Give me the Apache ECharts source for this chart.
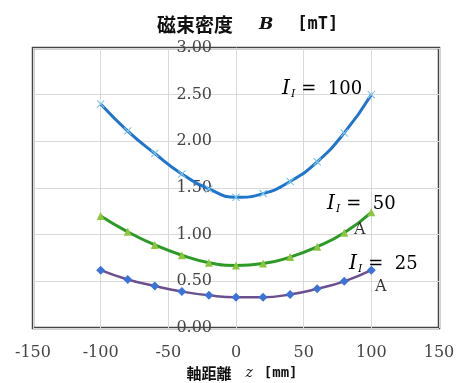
<!DOCTYPE html>
<html>
<head>
<meta charset="utf-8">
<script src="https://cdn.jsdelivr.net/npm/echarts@6/dist/echarts.min.js"></script>
<style>
html,body{margin:0;padding:0;background:#fff;}
#chart{width:456px;height:383px;}
</style>
</head>
<body>
<div id="chart"></div>
<script>
// ---- data ----
var zPositions = [-100, -80, -60, -40, -20, 0, 20, 40, 60, 80, 100];
var b100 = [2.40, 2.11, 1.87, 1.65, 1.49, 1.40, 1.44, 1.57, 1.78, 2.09, 2.50];
var b50  = [1.20, 1.03, 0.89, 0.78, 0.70, 0.67, 0.69, 0.76, 0.87, 1.02, 1.24];
var b25  = [0.62, 0.52, 0.45, 0.39, 0.35, 0.33, 0.33, 0.36, 0.42, 0.50, 0.62];
var seriesNames = ['I=100', 'I=50', 'I=25'];
var annotationValues = ['100', '50', '25'];
var xTicks = [-150, -100, -50, 0, 50, 100, 150];
var yTicks = [0, 0.5, 1.0, 1.5, 2.0, 2.5, 3.0];

function pairs(ys) { return zPositions.map(function (x, i) { return [x, ys[i]]; }); }

var serif = 'DejaVu Serif';
var cjk = 'Noto Sans CJK JP';
var crossPath = 'path://M0,1 L1,0 L5,4 L9,0 L10,1 L6,5 L10,9 L9,10 L5,6 L1,10 L0,9 L4,5 Z';

var annRich = {
  i: { fontFamily: serif, fontStyle: 'italic', fontSize: 20, color: '#333', lineHeight: 22 },
  s: { fontFamily: serif, fontStyle: 'italic', fontSize: 11, color: '#333', verticalAlign: 'bottom', lineHeight: 22, padding: [0, 6, 0, 1] },
  n: { fontFamily: serif, fontSize: 18, color: '#333', lineHeight: 22 }
};
function annText(v) { return '{i|I}{s|I}{n|=  ' + v + '}'; }

var gridLeft = 33, gridRight = 17;
var chartWidth = 456;

var chart = echarts.init(document.getElementById('chart'));
var option = {
  backgroundColor: '#fff',
  animation: false,
  title: {
    text: '{c|磁束密度}{b|B}{m|[mT]}',
    left: 152,
    top: 10,
    textStyle: {
      rich: {
        c: { fontFamily: cjk, fontWeight: 'bold', fontSize: 19, color: '#111' },
        b: { fontFamily: serif, fontStyle: 'italic', fontWeight: 'bold', fontSize: 17, color: '#111', padding: [0, 24, 0, 26] },
        m: { fontFamily: 'DejaVu Sans Mono', fontWeight: 'bold', fontSize: 17, color: '#111' }
      }
    }
  },
  grid: {
    left: gridLeft, right: gridRight, top: 48, bottom: 55,
    show: true, borderColor: '#444', borderWidth: 2.5,
    outerBoundsMode: 'none',
    containLabel: false
  },
  xAxis: {
    type: 'value', min: xTicks[0], max: xTicks[xTicks.length - 1], interval: 50,
    axisLine: { show: false, onZero: false },
    axisTick: { show: false },
    axisLabel: { margin: 17, fontFamily: serif, fontSize: 16, color: '#444' },
    splitLine: { show: true, lineStyle: { color: '#d9d9d9', width: 1 } },
    name: '{c|軸距離}{z|z}{m|[mm]}',
    nameLocation: 'middle',
    nameGap: 35,
    nameTextStyle: {
      padding: [0, 0, 0, 12],
      rich: {
        c: { fontFamily: cjk, fontWeight: 'bold', fontSize: 15, color: '#111' },
        z: { fontFamily: serif, fontStyle: 'italic', fontSize: 14, color: '#111', padding: [0, 11, 0, 14] },
        m: { fontFamily: 'DejaVu Sans Mono', fontWeight: 'bold', fontSize: 14, color: '#111' }
      }
    }
  },
  yAxis: {
    type: 'value', min: yTicks[0], max: yTicks[yTicks.length - 1], interval: 0.5,
    position: 'left',
    // place the y axis at z = 0 (middle of the symmetric x range)
    offset: -(chartWidth - gridLeft - gridRight) / 2,
    axisLine: { show: true, onZero: false, lineStyle: { color: '#d9d9d9', width: 1 } },
    axisTick: { show: false },
    axisLabel: {
      margin: 24, fontFamily: serif, fontSize: 16, color: '#444',
      formatter: function (v) { return v.toFixed(2); }
    },
    splitLine: { show: true, lineStyle: { color: '#d9d9d9', width: 1 } }
  },
  series: [
    {
      name: seriesNames[0], type: 'line', data: pairs(b100), smooth: 0.5,
      lineStyle: { color: '#1f74cc', width: 3 },
      symbol: crossPath, symbolSize: 8,
      itemStyle: { color: '#7fc6ea' }, z: 3
    },
    {
      name: seriesNames[1], type: 'line', data: pairs(b50), smooth: 0.5,
      lineStyle: { color: '#2c9a26', width: 3 },
      symbol: 'triangle', symbolSize: 8,
      itemStyle: { color: '#8cc63e' }, z: 3
    },
    {
      name: seriesNames[2], type: 'line', data: pairs(b25), smooth: 0.5,
      lineStyle: { color: '#6c4f8e', width: 2.5 },
      symbol: 'diamond', symbolSize: 9,
      itemStyle: { color: '#3b74d6' }, z: 3
    }
  ],
  graphic: [
    { type: 'text', left: 282, top: 79, z: 10, style: { text: annText(annotationValues[0]), rich: annRich } },
    { type: 'text', left: 327, top: 194, z: 10, style: { text: annText(annotationValues[1]), rich: annRich } },
    { type: 'text', left: 354, top: 222, z: 10, style: { text: 'A', fontFamily: serif, fontSize: 16, fill: '#333' } },
    { type: 'text', left: 349, top: 254, z: 10, style: { text: annText(annotationValues[2]), rich: annRich } },
    { type: 'text', left: 375, top: 279, z: 10, style: { text: 'A', fontFamily: serif, fontSize: 16, fill: '#333' } }
  ]
};
chart.setOption(option);
</script>
</body>
</html>
